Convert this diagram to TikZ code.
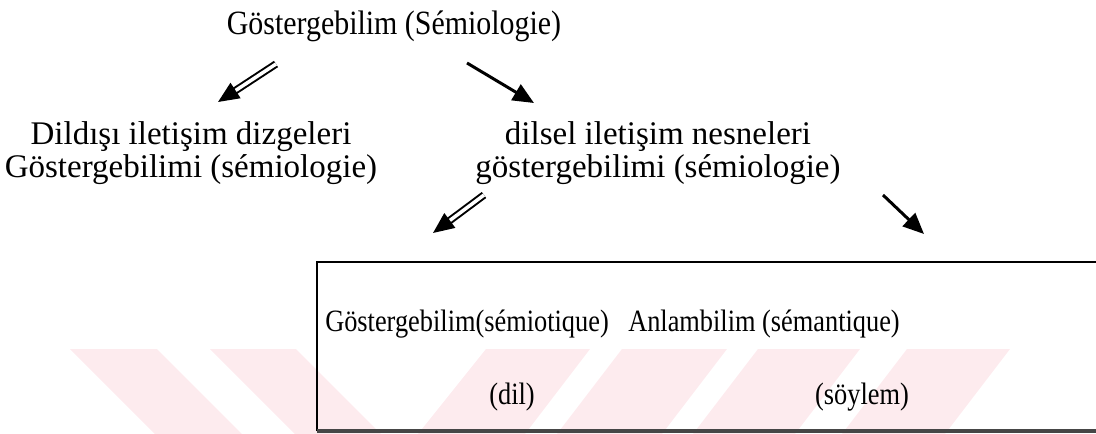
\documentclass[tikz,border=0pt]{standalone}
\usepackage{fontspec}
\setmainfont{Liberation Serif}
\newfontfamily\titlefont[FakeStretch=0.88]{Liberation Serif}
\newfontfamily\boxfont[FakeStretch=0.85]{Liberation Serif}
\usetikzlibrary{arrows.meta}
\definecolor{wmpink}{RGB}{253,235,238}
\definecolor{boxgray}{RGB}{70,70,70}
\tikzset{
  lbl/.style={inner sep=0pt, anchor=base, align=center},
  fa/.style={font=\titlefont\fontsize{34}{34}\selectfont},
  fb/.style={font=\fontsize{33}{33}\selectfont},
  fc/.style={font=\boxfont\fontsize{31}{31}\selectfont},
  sarrow/.style={line width=3pt, -{Triangle[length=21pt,width=18pt]}},
  darrow/.style={line width=2pt, double=white, double distance=3.5pt, -{Triangle[length=21pt,width=18pt]}},
  wm/.style={fill=wmpink, draw=none},
  frame/.style={line width=1.4pt, draw=black},
  framebottom/.style={line width=3.2pt, draw=boxgray}
}
\begin{document}
\begin{tikzpicture}[x=1pt,y=-1pt]
\useasboundingbox (0,0) rectangle (1096,434);
\begin{scope}
\clip (0,0) rectangle (1096,434);
% watermark stripes
\fill[wm] (70,349) -- (157,349) -- (242,434) -- (155,434) -- cycle;
\fill[wm] (210,349) -- (296,349) -- (381,434) -- (295,434) -- cycle;
\fill[wm] (486,349) -- (590,349) -- (525,434) -- (418,434) -- cycle;
\fill[wm] (622,349) -- (727,349) -- (662,434) -- (557,434) -- cycle;
\fill[wm] (758,349) -- (860,349) -- (795,434) -- (693,434) -- cycle;
\fill[wm] (907,349) -- (1010,349) -- (945,434) -- (842,434) -- cycle;
% frame
\coordinate (fbl) at (317,431);
\coordinate (ftl) at (317,262);
\coordinate (ftr) at (1100,262);
\coordinate (fbr) at (1100,431);
\draw[frame] (fbl) -- (ftl) -- (ftr);
\draw[framebottom] (fbl) -- (fbr);
\end{scope}
% texts
\node[lbl,fa] (top) at (394,34) {Göstergebilim (Sémiologie)};
\node[lbl,fb] (left) at (191,177) {Dildışı iletişim dizgeleri\\Göstergebilimi (sémiologie)};
\node[lbl,fb] (right) at (658,177) {dilsel iletişim nesneleri\\göstergebilimi (sémiologie)};
\node[lbl,fc] (semio) at (467,331) {Göstergebilim(sémiotique)};
\node[lbl,fc] (seman) at (764,331) {Anlambilim (sémantique)};
\node[lbl,fc] (dil) at (512,404) {(dil)};
\node[lbl,fc] (soylem) at (862,404) {(söylem)};
% arrows
\coordinate (a1s) at (276,64);
\coordinate (a1e) at (218,102);
\coordinate (a2s) at (467,63);
\coordinate (a2e) at (534,103);
\coordinate (a3s) at (484,195);
\coordinate (a3e) at (433,233);
\coordinate (a4s) at (883,195);
\coordinate (a4e) at (924,234);
\draw[darrow] (a1s) -- (a1e);
\draw[sarrow] (a2s) -- (a2e);
\draw[darrow] (a3s) -- (a3e);
\draw[sarrow] (a4s) -- (a4e);
\end{tikzpicture}
\end{document}
